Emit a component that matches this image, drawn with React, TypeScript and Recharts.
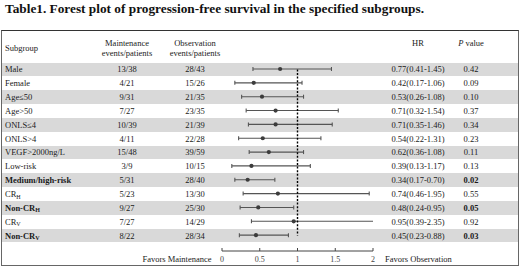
import { ComposedChart, Bar, XAxis, YAxis, ReferenceLine } from 'recharts'

const subgroups = ['Male', 'Female', 'Age≤50', 'Age>50', 'ONLS≤4', 'ONLS>4', 'VEGF>2000ng/L', 'Low-risk', 'Medium/high-risk', 'CRH', 'Non-CRH', 'CRV', 'Non-CRV']
const subgroupBase = ['Male', 'Female', 'Age≤50', 'Age>50', 'ONLS≤4', 'ONLS>4', 'VEGF>2000ng/L', 'Low-risk', 'Medium/high-risk', 'CR', 'Non-CR', 'CR', 'Non-CR']
const subgroupSub = ['', '', '', '', '', '', '', '', '', 'H', 'H', 'V', 'V']
const maintenance = ['13/38', '4/21', '9/31', '7/27', '10/39', '4/11', '15/48', '3/9', '5/31', '5/23', '9/27', '7/27', '8/22']
const observation = ['28/43', '15/26', '21/35', '23/35', '21/39', '22/28', '39/59', '10/15', '28/40', '13/30', '25/30', '14/29', '28/34']
const hrLabels = ['0.77(0.41-1.45)', '0.42(0.17-1.06)', '0.53(0.26-1.08)', '0.71(0.32-1.54)', '0.71(0.35-1.46)', '0.54(0.22-1.31)', '0.62(0.36-1.08)', '0.39(0.13-1.17)', '0.34(0.17-0.70)', '0.74(0.46-1.95)', '0.48(0.24-0.95)', '0.95(0.39-2.35)', '0.45(0.23-0.88)']
const pValues = ['0.42', '0.09', '0.10', '0.37', '0.34', '0.23', '0.11', '0.13', '0.02', '0.55', '0.05', '0.92', '0.03']
const significant = [false, false, false, false, false, false, false, false, true, false, true, false, true]

// values as drawn in the plot
const hr = [0.77, 0.42, 0.53, 0.71, 0.71, 0.54, 0.62, 0.39, 0.34, 0.74, 0.48, 0.95, 0.45]
const ciLow = [0.41, 0.17, 0.26, 0.32, 0.35, 0.22, 0.36, 0.13, 0.17, 0.28, 0.24, 0.39, 0.23]
const ciHigh = [1.45, 1.06, 1.08, 1.54, 1.46, 1.31, 1.08, 1.17, 0.70, 1.95, 0.95, 2.35, 0.88]
const axisTicks = [0, 0.5, 1, 1.5, 2]

const data = subgroups.map((name, i) => ({ name, hr: hr[i], ci: [ciLow[i], ciHigh[i]] }))

const SERIF = '"Liberation Serif", "Times New Roman", serif'
const FS = 8.5
const ROW_TOP = 62.5
const ROW_H = 180 / 13

const CiShape = (props: any) => {
  const { x, y, width, height, payload } = props
  const [lo, hi] = payload.ci
  const cy = y + height / 2
  const px = x + (width * (payload.hr - lo)) / (hi - lo)
  return (
    <g stroke="#555" strokeWidth={1.1}>
      <line x1={x} x2={x + width} y1={cy} y2={cy} />
      <line x1={x} x2={x} y1={cy - 2} y2={cy + 2} />
      <line x1={x + width} x2={x + width} y1={cy - 2} y2={cy + 2} />
      <circle cx={px} cy={cy} r={2.1} fill="#3c3c3c" stroke="none" />
    </g>
  )
}

const RowTick = (props: any) => {
  const { y, payload } = props
  const i = subgroups.indexOf(payload.value)
  const bold = significant[i] ? 'bold' : 'normal'
  const common = { y, dy: '0.35em', fontSize: FS, fontFamily: SERIF, fill: '#1a1a1a' }
  return (
    <g>
      <text {...common} x={5} fontWeight={bold}>
        {subgroupBase[i]}
        {subgroupSub[i] && <tspan fontSize={6} dy={1.5}>{subgroupSub[i]}</tspan>}
      </text>
      <text {...common} x={127} textAnchor="middle">{maintenance[i]}</text>
      <text {...common} x={195} textAnchor="middle">{observation[i]}</text>
      <text {...common} x={418} textAnchor="middle">{hrLabels[i]}</text>
      <text {...common} x={471} textAnchor="middle" fontWeight={bold}>{pValues[i]}</text>
    </g>
  )
}

const AxisTick = (props: any) => {
  const { x, y, payload } = props
  return (
    <g>
      <line x1={x} x2={x} y1={y} y2={y - 3} stroke="#444" />
      <text x={x} y={y + 8.5} dy="0.35em" textAnchor="middle" fontSize={8} fontFamily={SERIF} fill="#444">
        {payload.value}
      </text>
    </g>
  )
}

const Txt = ({ x, y, children, align = 'center', style }: any) => (
  <div
    style={{
      position: 'absolute',
      left: x,
      top: y,
      transform: align === 'center' ? 'translate(-50%, -50%)' : 'translate(0, -50%)',
      whiteSpace: 'nowrap',
      fontSize: FS,
      lineHeight: 1,
      color: '#1a1a1a',
      ...style,
    }}
  >
    {children}
  </div>
)

export default function App() {
  return (
    <div style={{ position: 'fixed', left: 0, top: 0, width: 520, height: 266, background: '#fff', fontFamily: SERIF, overflow: 'hidden' }}>
      <div style={{ position: 'absolute', left: 5, top: 1, fontSize: 13.3, fontWeight: 'bold', color: '#111', whiteSpace: 'nowrap' }}>
        Table1. Forest plot of progression-free survival in the specified subgroups.
      </div>

      {/* table frame */}
      <div style={{ position: 'absolute', left: 1, top: 30, width: 516, height: 234, borderTop: '1.5px solid #333', borderLeft: '1px solid #666', borderRight: '1px solid #666', borderBottom: '1px solid #666' }} />

      {/* row stripes */}
      {subgroups.map((s, i) =>
        i % 2 === 0 ? (
          <div key={s} style={{ position: 'absolute', left: 2, top: ROW_TOP + i * ROW_H, width: 516, height: ROW_H, background: '#d9d9d9' }} />
        ) : null
      )}

      {/* header */}
      <Txt x={5} y={47.5} align="left">Subgroup</Txt>
      <Txt x={127} y={43}>Maintenance</Txt>
      <Txt x={127} y={53}>events/patients</Txt>
      <Txt x={195} y={42.5}>Observation</Txt>
      <Txt x={195} y={52.5}>events/patients</Txt>
      <Txt x={418} y={42.5}>HR</Txt>
      <Txt x={471} y={42.5}><i>P</i> value</Txt>

      {/* footer */}
      <Txt x={177} y={258.5}>Favors Maintenance</Txt>
      <Txt x={385} y={258.5} align="left">Favors Observation</Txt>

      <div style={{ position: 'absolute', left: 0, top: 0 }}>
        <ComposedChart width={520} height={266} data={data} layout="vertical" margin={{ top: ROW_TOP, right: 147, bottom: 0, left: 0 }}>
          <XAxis
            type="number"
            domain={[0, 2]}
            ticks={axisTicks}
            allowDataOverflow
            height={15}
            tickLine={false}
            tickSize={0}
            tickMargin={0}
            axisLine={{ stroke: '#444' }}
            tick={<AxisTick />}
            interval={0}
          />
          <YAxis type="category" dataKey="name" width={222} padding={{ top: 0, bottom: 8.5 }} axisLine={false} tickLine={false} tick={<RowTick />} interval={0} />
          <Bar dataKey="ci" barSize={5} shape={<CiShape />} isAnimationActive={false} />
          <ReferenceLine
            segment={[{ x: 1, y: subgroups[0] }, { x: 1, y: subgroups[subgroups.length - 1] }]}
            stroke="#000"
            strokeWidth={1.4}
            strokeDasharray="2 1.6"
          />
        </ComposedChart>
      </div>
    </div>
  )
}
